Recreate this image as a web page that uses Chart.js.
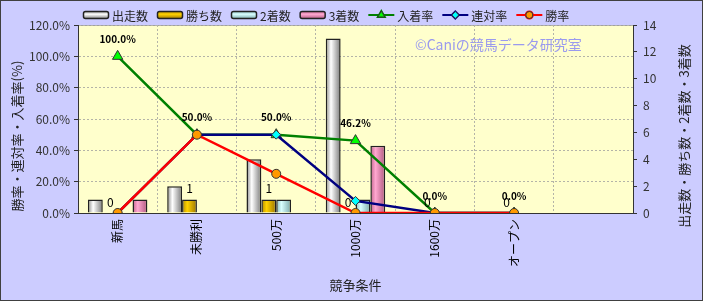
<!DOCTYPE html>
<html>
<head>
<meta charset="utf-8">
<script src="https://cdn.jsdelivr.net/npm/chart.js@4"></script>
<style>
    html, body { margin: 0; padding: 0; background: #ccccff; }
    #wrap { width: 703px; height: 301px; position: relative; box-sizing: border-box; }
    #wrap:after { content: ''; position: absolute; left: 0; top: 0; right: 0; bottom: 0; border: 1px solid #404040; pointer-events: none; }
</style>
</head>
<body>
<div id="wrap"><canvas id="raceChart" width="703" height="301"></canvas></div>
<script>
// 競争条件
const categories = ['新馬', '未勝利', '500万', '1000万', '1600万', 'オープン', '']

// 頭数 (右軸)
const starts = [1, 2, 4, 13, 0, 0, null]
const wins = [0, 1, 1, 0, 0, 0, null]
const seconds = [0, 0, 1, 1, 0, 0, null]
const thirds = [1, 0, 0, 5, 0, 0, null]

// 率 (左軸, %)
const placeRate = [100, 50, 50, 46.2, 0, 0, null]
const rentaiRate = [0, 50, 50, 7.7, 0, 0, null]
const winRate = [0, 50, 25, 0, 0, 0, null]

const leftTicks = [0, 20, 40, 60, 80, 100, 120]
const rightTicks = [0, 2, 4, 6, 8, 10, 12, 14]

const FONT = '"Noto Sans CJK JP", "Noto Sans", sans-serif'
const GRID = '#b4b4a8'

// 棒の横グラデーション
function barGradient(colors) {
    return (context) => {
        const chart = context.chart
        const xs = chart.scales.x
        if (!chart.chartArea || !xs || context.dataIndex === undefined) return colors[1]
        const catW = xs.width / categories.length
        const w = catW * 0.75 / 4
        const left = xs.getPixelForValue(context.dataIndex) - 2 * w + context.datasetIndex * w
        const g = chart.ctx.createLinearGradient(left, 0, left + w, 0)
        g.addColorStop(0, colors[0])
        g.addColorStop(0.35, colors[1])
        g.addColorStop(1, colors[2])
        return g
    }
}

const bgPlugin = {
    id: 'bgPlugin',
    beforeDraw(chart) {
        const { ctx, chartArea: a } = chart
        ctx.save()
        ctx.fillStyle = '#ccccff'
        ctx.fillRect(0, 0, chart.width, chart.height)
        ctx.fillStyle = '#ffffcc'
        ctx.fillRect(a.left, a.top, a.right - a.left, a.bottom - a.top)
        ctx.strokeStyle = '#a0a0a0'
        ctx.lineWidth = 1
        ctx.beginPath()
        ctx.moveTo(a.left, a.top + 0.5)
        ctx.lineTo(a.right, a.top + 0.5)
        ctx.stroke()
        // 透かし
        ctx.fillStyle = '#9a9aee'
        ctx.font = '14px ' + FONT
        ctx.textAlign = 'left'
        ctx.textBaseline = 'middle'
        ctx.fillText('©Caniの競馬データ研究室', 415, 45)
        ctx.restore()
    }
}

const labelPlugin = {
    id: 'labelPlugin',
    afterDatasetsDraw(chart) {
        const ctx = chart.ctx
        ctx.save()
        ctx.fillStyle = '#000'
        ctx.textAlign = 'center'
        ctx.textBaseline = 'middle'

        // 勝ち数のラベル
        ctx.font = '12px ' + FONT
        chart.getDatasetMeta(1).data.forEach((bar, i) => {
            if (wins[i] === null) return
            ctx.fillText(String(wins[i]), bar.x, bar.y - 11)
        })

        // 入着率のラベル
        ctx.font = 'bold 10px ' + FONT
        chart.getDatasetMeta(4).data.forEach((pt, i) => {
            if (placeRate[i] === null) return
            ctx.fillText(placeRate[i].toFixed(1) + '%', pt.x, pt.y - 17)
        })
        ctx.restore()
    },
    afterDraw(chart) {
        const ctx = chart.ctx
        ctx.save()
        ctx.fillStyle = '#222'
        ctx.font = '13px ' + FONT
        ctx.textAlign = 'center'
        ctx.textBaseline = 'middle'
        // 軸タイトル
        ctx.translate(17, 136)
        ctx.rotate(-Math.PI / 2)
        ctx.fillText('勝率・連対率・入着率(%)', 0, 0)
        ctx.setTransform(1, 0, 0, 1, 0, 0)
        ctx.translate(684, 136)
        ctx.rotate(-Math.PI / 2)
        ctx.fillText('出走数・勝ち数・2着数・3着数', 0, 0)
        ctx.restore()

        // 凡例
        ctx.save()
        ctx.font = '12px ' + FONT
        ctx.textBaseline = 'middle'
        ctx.textAlign = 'left'
        let x = 83
        const y = 15
        chart.data.datasets.forEach((ds) => {
            if (ds.type === 'bar') {
                const g = ctx.createLinearGradient(0, y - 4, 0, y + 4)
                g.addColorStop(0, ds.legendColors[0])
                g.addColorStop(0.4, ds.legendColors[1])
                g.addColorStop(1, ds.legendColors[2])
                ctx.fillStyle = g
                ctx.strokeStyle = '#222'
                ctx.lineWidth = 1.5
                ctx.beginPath()
                ctx.roundRect(x + 0.5, y - 3.5, 25, 7, 2)
                ctx.fill()
                ctx.stroke()
            } else {
                ctx.strokeStyle = ds.borderColor
                ctx.lineWidth = 2
                ctx.beginPath()
                ctx.moveTo(x, y)
                ctx.lineTo(x + 26, y)
                ctx.stroke()
                Chart.helpers.drawPoint(ctx, {
                    pointStyle: ds.pointStyle,
                    radius: ds.pointStyle === 'triangle' ? 4 : 3.5,
                    borderWidth: 1
                }, x + 13, y)
                ctx.fillStyle = ds.pointBackgroundColor
                ctx.strokeStyle = ds.pointBorderColor
                ctx.lineWidth = 1
                ctx.fill()
                ctx.stroke()
            }
            ctx.fillStyle = '#222'
            ctx.fillText(ds.label, x + 29, y + 1)
            x += 29 + ctx.measureText(ds.label).width + 9
        })
        ctx.restore()
    }
}

function barSet(label, data, colors) {
    return {
        type: 'bar',
        label: label,
        data: data,
        yAxisID: 'y1',
        backgroundColor: barGradient(colors),
        legendColors: colors,
        borderColor: '#222',
        borderWidth: 1.5,
        borderSkipped: 'bottom',
        categoryPercentage: 0.75,
        barPercentage: 1.0,
        order: 10
    }
}

function lineSet(label, data, color, pointStyle, pointColor, order) {
    return {
        type: 'line',
        label: label,
        data: data,
        yAxisID: 'y',
        borderColor: color,
        borderWidth: 2.5,
        pointStyle: pointStyle,
        pointRadius: pointStyle === 'triangle' ? 6 : 4.5,
        pointBackgroundColor: pointColor,
        pointBorderColor: '#333',
        pointBorderWidth: 1,
        fill: false,
        tension: 0,
        order: order
    }
}

const ctx = document.getElementById('raceChart').getContext('2d')
const raceChart = new Chart(ctx, {
    data: {
        labels: categories,
        datasets: [
            barSet('出走数', starts, ['#8a8a8a', '#ffffff', '#7a7a7a']),
            barSet('勝ち数', wins, ['#b08800', '#ffd200', '#9a7400']),
            barSet('2着数', seconds, ['#88b8b8', '#d8ffff', '#7aa8a8']),
            barSet('3着数', thirds, ['#c0608a', '#ffa8d0', '#b05880']),
            lineSet('入着率', placeRate, '#008000', 'triangle', '#00ff00', 3),
            lineSet('連対率', rentaiRate, '#000080', 'rectRot', '#00ffff', 2),
            lineSet('勝率', winRate, '#ff0000', 'circle', '#ff9900', 1)
        ]
    },
    options: {
        responsive: false,
        animation: false,
        layout: {
            padding: { top: 25, left: 0, right: 0, bottom: 0 }
        },
        plugins: {
            legend: { display: false },
            tooltip: { enabled: false }
        },
        scales: {
            x: {
                offset: true,
                grid: {
                    offset: true,
                    color: GRID,
                    lineWidth: 1,
                    tickLength: 0
                },
                border: { color: '#333', width: 1, dash: [2, 2] },
                ticks: {
                    minRotation: 90,
                    maxRotation: 90,
                    autoSkip: false,
                    padding: 6,
                    color: '#000',
                    font: { family: FONT, size: 12 }
                },
                title: {
                    display: true,
                    text: '競争条件',
                    color: '#222',
                    padding: { top: 0, bottom: 8 },
                    font: { family: FONT, size: 13 }
                },
                afterFit: (scale) => { scale.height = 88 }
            },
            y: {
                position: 'left',
                min: 0,
                max: 120,
                afterBuildTicks: (scale) => { scale.ticks = leftTicks.map(v => ({ value: v })) },
                grid: {
                    color: GRID,
                    tickColor: '#333',
                    tickLength: 4
                },
                border: { color: '#333', width: 1, dash: [2, 2] },
                ticks: {
                    color: '#333',
                    padding: 4,
                    font: { family: FONT, size: 12 },
                    callback: (v) => v.toFixed(1) + '%'
                },
                afterFit: (scale) => { scale.width = 78 }
            },
            y1: {
                position: 'right',
                min: 0,
                max: 14,
                afterBuildTicks: (scale) => { scale.ticks = rightTicks.map(v => ({ value: v })) },
                grid: {
                    drawOnChartArea: false,
                    tickColor: '#333',
                    tickLength: 4
                },
                border: { color: '#333', width: 1 },
                ticks: {
                    color: '#333',
                    padding: 6,
                    font: { family: FONT, size: 12 }
                },
                afterFit: (scale) => { scale.width = 70 }
            }
        }
    },
    plugins: [bgPlugin, labelPlugin]
})
</script>
</body>
</html>
